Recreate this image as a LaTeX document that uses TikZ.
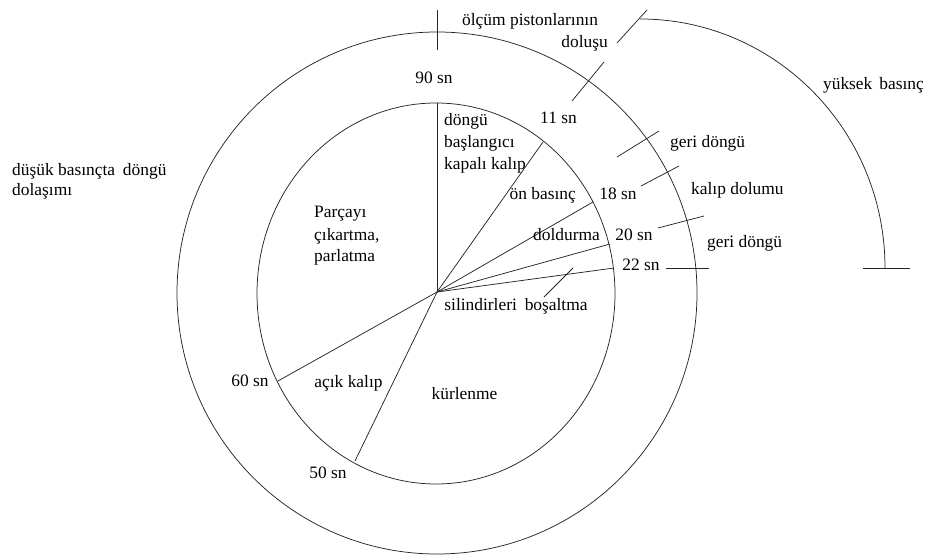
\documentclass[tikz,border=0pt]{standalone}
\usepackage{fontspec}
\setmainfont{Liberation Serif}
\begin{document}
\begin{tikzpicture}[x=1pt,y=-1pt,
  ln/.style={line width=0.75pt, draw=black!85},
  lbl/.style={inner sep=0pt, text height=0.7em, text depth=0.2em, font=\fontsize{17.4}{22}\selectfont}]
\useasboundingbox (0,0) rectangle (929,556);
% circles
\coordinate (oc) at (437,293);
\coordinate (ic) at (436,293.5);
\draw[ln] (oc) ellipse [x radius=260pt, y radius=261pt];
\draw[ln] (ic) ellipse [x radius=179pt, y radius=190.5pt];
% radial lines
\coordinate (c) at (437,292);
\coordinate (e90) at (437,103);
\coordinate (e11) at (543,142);
\coordinate (e18) at (593,202);
\coordinate (e20) at (610,244);
\coordinate (e22) at (614,268);
\coordinate (e60) at (278,381);
\coordinate (e50) at (355,461);
\foreach \e in {e90,e11,e18,e20,e22,e60,e50} \draw[ln] (c) -- (\e);
% ticks on outer circle
\coordinate (t90a) at (437,10);   \coordinate (t90b) at (437,50);
\coordinate (t11a) at (604,62);   \coordinate (t11b) at (572,101);
\coordinate (tgda) at (659,131);  \coordinate (tgdb) at (617,157);
\coordinate (t18a) at (679,166);  \coordinate (t18b) at (641,186);
\coordinate (t20a) at (704,216);  \coordinate (t20b) at (658,228);
\coordinate (t22a) at (666,268);  \coordinate (t22b) at (709,268);
\coordinate (tsba) at (573,268);  \coordinate (tsbb) at (544,297);
\coordinate (ttra) at (647,10);   \coordinate (ttrb) at (617,43);
\coordinate (tena) at (863,268);  \coordinate (tenb) at (910,268);
\foreach \a/\b in {t90a/t90b,t11a/t11b,tgda/tgdb,t18a/t18b,t20a/t20b,t22a/t22b,tsba/tsbb,ttra/ttrb,tena/tenb}
  \draw[ln] (\a) -- (\b);
% high pressure arc
\coordinate (hs) at (640,19);
\draw[ln] (hs) arc [start angle=90, end angle=0, x radius=245pt, y radius=249pt];
% labels
\node[lbl, anchor=west] (olc) at (462,23) {ölçüm pistonlarının};
\node[lbl, anchor=east] (dol) at (608,45) {doluşu};
\node[lbl] (s90) at (434,81) {90 sn};
\node[lbl] (s11) at (558.5,121.5) {11 sn};
\node[lbl] (s18) at (618,197.5) {18 sn};
\node[lbl] (s20) at (634,238) {20 sn};
\node[lbl] (s22) at (641,268) {22 sn};
\node[lbl] (s60) at (250,383.5) {60 sn};
\node[lbl] (s50) at (328,475.5) {50 sn};
\node[lbl, anchor=west] (dg1) at (444,123) {döngü};
\node[lbl, anchor=west] (dg2) at (444,145) {başlangıcı};
\node[lbl, anchor=west] (dg3) at (444,167) {kapalı kalıp};
\node[lbl, anchor=east] (onb) at (576,197) {ön basınç};
\node[lbl] (dold) at (566.5,238) {doldurma};
\node[lbl] (silb) at (516,308) {silindirleri\hspace{0.2em} boşaltma};
\node[lbl, anchor=west] (pc1) at (314,215) {Parçayı};
\node[lbl, anchor=west] (pc2) at (314,238) {çıkartma,};
\node[lbl, anchor=west] (pc3) at (314,259) {parlatma};
\node[lbl] (acik) at (348.5,385) {açık kalıp};
\node[lbl] (kur) at (464.5,397) {kürlenme};
\node[lbl, anchor=west] (gd1) at (670,145) {geri döngü};
\node[lbl, anchor=west] (kd) at (691,192) {kalıp dolumu};
\node[lbl, anchor=west] (gd2) at (707,245) {geri döngü};
\node[lbl, anchor=east] (yb) at (924,87) {yüksek\hspace{0.15em} basınç};
\node[lbl, anchor=west] (db1) at (12,173) {düşük basınçta\hspace{0.2em} döngü};
\node[lbl, anchor=west] (db2) at (12,193) {dolaşımı};
\end{tikzpicture}
\end{document}
